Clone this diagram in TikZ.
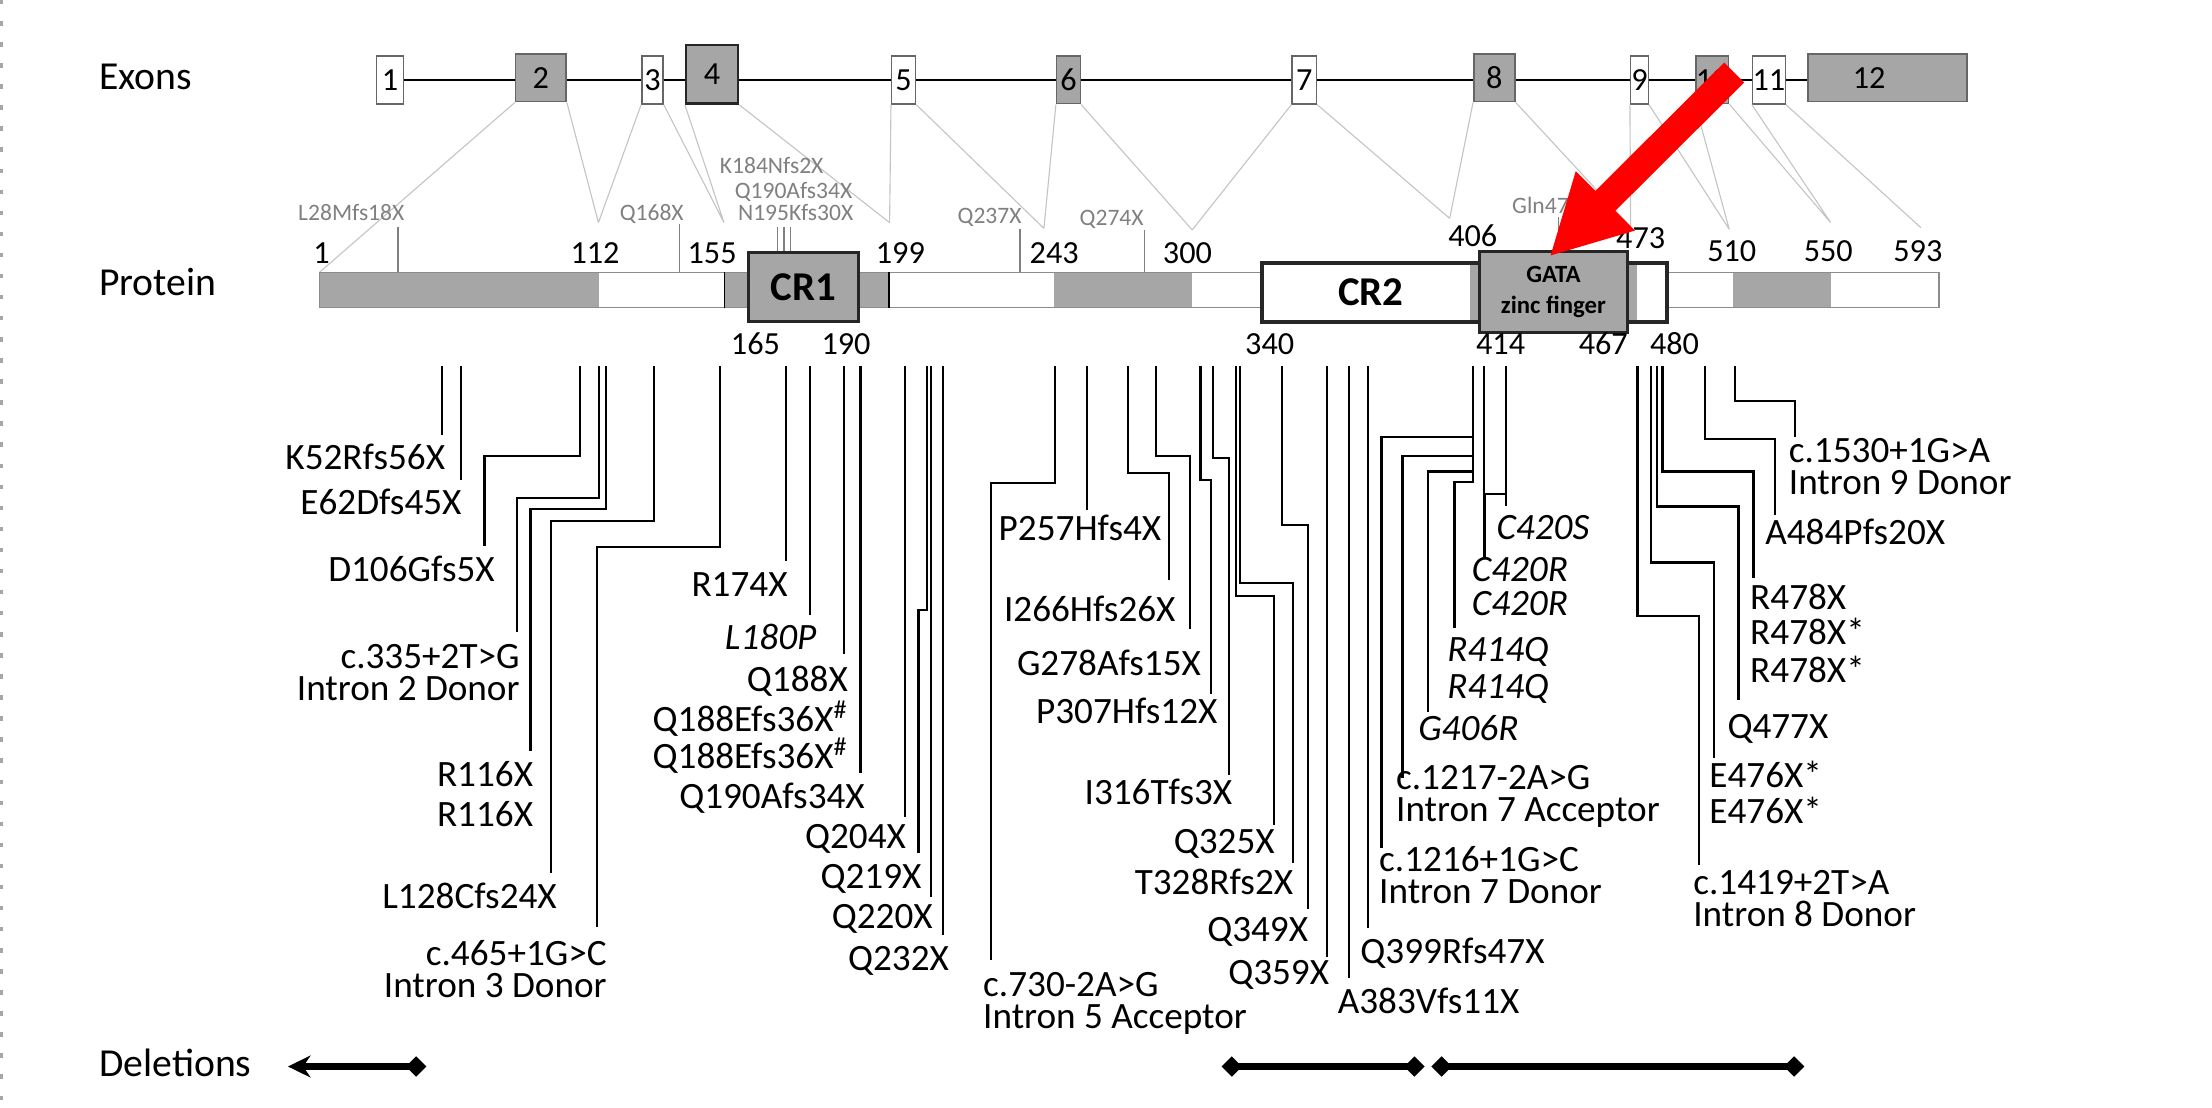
\documentclass[tikz,border=0pt]{standalone}
\usepackage{fontspec}
\setmainfont{Carlito}
\usetikzlibrary{arrows.meta,backgrounds}
\definecolor{exgray}{RGB}{166,166,166}
\definecolor{lblgray}{RGB}{128,128,128}
\definecolor{fangray}{RGB}{196,196,196}
\definecolor{callred}{RGB}{255,0,0}
\newcommand{\setfs}[2]{\fontsize{#1}{#2}\selectfont}
\tikzset{
  exon/.style={draw=black!60,line width=0.6pt,inner sep=0pt,font=\setfs{13}{13}},
  exw/.style={exon,fill=white},
  exg/.style={exon,fill=exgray},
  num/.style={inner sep=0pt,anchor=base,font=\setfs{13}{13}},
  glbl/.style={inner sep=0pt,anchor=base,text=lblgray,font=\setfs{9.5}{9.5}},
  gtick/.style={draw=lblgray,line width=0.5pt},
  fan/.style={draw=fangray,line width=0.45pt},
  mut/.style={inner sep=0pt,font=\setfs{15}{15}},
  mutit/.style={mut,font=\setfs{15}{15}\itshape},
  mutR/.style={mut,align=right,font=\setfs{15}{12.9}},
  mutL/.style={mut,align=left,font=\setfs{15}{12.9}},
  lead/.style={draw=black,line width=0.9pt,shorten >=0.5cm},
  dom/.style={draw=black!85,line width=1.3pt,inner sep=0pt,font=\bfseries\setfs{16.5}{16.5}},
  rowlbl/.style={inner sep=0pt,anchor=base west,font=\setfs{16}{16}},
  delbar/.style={line width=2.6pt},
  intron/.style={draw=black,line width=1.1pt},
}

\begin{document}
\begin{tikzpicture}[x=0.02cm,y=-0.02cm]
  \useasboundingbox (0,0) rectangle (1568,785);
  \draw[black!35,line width=1.2pt,dash pattern=on 1.8pt off 6.7pt] (1,0) -- (1,785);

  % row titles
  \node[rowlbl] (exons) at (70,63.3) {Exons};
  \node[rowlbl] (protein) at (70,209.8) {Protein};
  \node[rowlbl] (deletions) at (70,763) {Deletions};

  % exons
  \node[exw,minimum width=0.38cm,minimum height=0.68cm] (e1) at (276.5,56.7) {1};
  \node[exg,minimum width=0.716cm,minimum height=0.676cm] (e2) at (383.4,55.2) {2};
  \node[exw,minimum width=0.30cm,minimum height=0.68cm] (e3) at (462.5,56.7) {3};
  \node[exg,draw=black!85,line width=1pt,minimum width=0.736cm,minimum height=0.832cm] (e4) at (504.8,52.7) {4};
  \node[exw,minimum width=0.338cm,minimum height=0.68cm] (e5) at (640.55,56.7) {5};
  \node[exg,minimum width=0.336cm,minimum height=0.676cm] (e6) at (757.4,56.6) {6};
  \node[exw,minimum width=0.342cm,minimum height=0.68cm] (e7) at (924.55,56.6) {7};
  \node[exg,minimum width=0.584cm,minimum height=0.676cm] (e8) at (1059.3,55.2) {8};
  \node[exw,minimum width=0.25cm,minimum height=0.68cm] (e9) at (1162.15,56.7) {9};
  \node[exg,minimum width=0.464cm,minimum height=0.672cm] (e10) at (1213.7,56.5) {10};
  \node[exw,minimum width=0.462cm,minimum height=0.68cm] (e11) at (1253.95,56.7) {11};
  \node[exg,minimum width=2.254cm,minimum height=0.676cm] (e12) at (1337.95,55.2) {12\hspace{0.52cm}\mbox{}};
  \begin{pgfonlayer}{background}
    \draw[intron] (e1.east) -- (e1.east -| e12.west);
  \end{pgfonlayer}

  % exon -> protein
  \coordinate (f1) at (226.5,193);
  \coordinate (f112) at (424.2,157.8);
  \coordinate (f155) at (513.2,157.8);
  \coordinate (f199) at (630.6,157.8);
  \coordinate (f243) at (740,161.9);
  \coordinate (f300) at (845.1,163);
  \coordinate (f406) at (1027.6,154.8);
  \coordinate (f473) at (1155.9,160.7);
  \coordinate (f510) at (1225.8,162.6);
  \coordinate (f550) at (1297.7,157.8);
  \coordinate (f593) at (1361.6,161.4);
  \draw[fan] (e2.south west) -- (f1) (e2.south east) -- (f112)
    (e3.south west) -- (f112) (e3.south east) -- (f155)
    (e4.south west) -- (f155) (e4.south east) -- (f199)
    (e5.south west) -- (f199) (e5.south east) -- (f243)
    (e6.south west) -- (f243) (e6.south east) -- (f300)
    (e7.south west) -- (f300) (e7.south east) -- (f406)
    (e8.south west) -- (f406) (e8.south east) -- (f473)
    (e9.south west) -- (f473) (e9.south east) -- (f510)
    (e10.south west) -- (f510) (e10.south east) -- (f550)
    (e11.south west) -- (f550) (e11.south east) -- (f593);

  % protein bar
  \fill[exgray] (226.5,193) rectangle (424.5,218.1);
  \fill[exgray] (513.6,193) rectangle (630.3,218.1);
  \fill[exgray] (746.9,193) rectangle (845,218.1);
  \fill[exgray] (1228.7,193) rectangle (1298,218.1);
  \draw[black!45,line width=0.6pt] (226.5,193) rectangle (1374.6,218.1);
  \draw[black,line width=0.7pt] (513.6,193) -- (513.6,218.1) (630.3,193) -- (630.3,218.1);
  \node[dom,fill=exgray,minimum width=1.556cm,minimum height=0.978cm] (cr1) at (569.7,203.55) {CR1};
  \node[dom,fill=white,line width=1.6pt,minimum width=3.08cm,minimum height=0.828cm] (cr2) at (971.7,207.3) {CR2};
  \fill[exgray] (1042,188) rectangle (1048.7,226.6);
  \node[dom,fill=white,line width=1.6pt,minimum width=0.558cm,minimum height=0.828cm] (cterm) at (1167.55,207.3) {};
  \fill[exgray] (1153.6,188) rectangle (1160.2,226.6);
  \node[dom,fill=exgray,minimum width=2.098cm,minimum height=1.148cm,align=center,
    font=\bfseries\setfs{10}{12.5}] (gata) at (1101.15,207.1) {GATA\\zinc finger};

  % positions
  \node[num] (n1) at (228,186.6) {1};
  \node[num] (n112) at (421.8,186.6) {112};
  \node[num] (n155) at (504.8,186.6) {155};
  \node[num] (n199) at (638.2,186.6) {199};
  \node[num] (n243) at (747.3,186.6) {243};
  \node[num] (n300) at (841.7,186.6) {300};
  \node[num] (n406) at (1044,175) {406};
  \node[num] (n473) at (1163,176) {473};
  \node[num] (n510) at (1227.6,185.5) {510};
  \node[num] (n550) at (1296,185.5) {550};
  \node[num] (n593) at (1359.5,185.5) {593};
  \node[num] (n165) at (535.5,251.5) {165};
  \node[num] (n190) at (599.7,251.5) {190};
  \node[num] (n340) at (900,251.5) {340};
  \node[num] (n414) at (1063.7,251.5) {414};
  \node[num] (n467) at (1136.5,251.5) {467};
  \node[num] (n480) at (1187,251.5) {480};

  % grey variants above the protein
  \node[glbl] (gL28) at (249,156) {L28Mfs18X};
  \node[glbl] (gQ168) at (462,156) {Q168X};
  \node[glbl] (gK184) at (547,122.9) {K184Nfs2X};
  \node[glbl] (gQ190) at (562.5,140.6) {Q190Afs34X};
  \node[glbl] (gN195) at (564,156) {N195Kfs30X};
  \node[glbl] (gQ237) at (701.5,158.3) {Q237X};
  \node[glbl] (gQ274) at (788,159.5) {Q274X};
  \node[glbl,anchor=base west] (gGln) at (1071.6,151.2) {Gln47};
  \draw[gtick] (282.1,160.7) -- (282.1,193) (481.9,159) -- (481.9,193)
    (551.1,160.7) -- (551.1,160.7 |- cr1.north) (555.7,160.7) -- (555.7,160.7 |- cr1.north)
    (560.2,160.7) -- (560.2,160.7 |- cr1.north) (723,162) -- (723,193)
    (811.1,163) -- (811.1,193) (1104.7,154) -- (1104.7,154 |- gata.north);

  % variants below the protein
  \coordinate (tK52) at (313.3,259.5);
  \coordinate (tE62) at (326.6,259.5);
  \coordinate (tD106) at (411.4,259.5);
  \coordinate (tC335) at (424.7,259.5);
  \coordinate (tR116) at (429.8,259.5);
  \coordinate (tL128) at (463.6,259.5);
  \coordinate (tC465) at (510.2,259.5);
  \coordinate (tR174) at (557,259.5);
  \coordinate (tL180) at (574.4,259.5);
  \coordinate (tQ188) at (598.1,259.5);
  \coordinate (tQ190) at (609.9,259.5);
  \coordinate (tQ204) at (641.5,259.5);
  \coordinate (tQ219) at (657,259.5);
  \coordinate (tQ220) at (660,259.5);
  \coordinate (tQ232) at (668.7,259.5);
  \coordinate (tC730) at (748.1,259.5);
  \coordinate (tP257) at (770.3,259.5);
  \coordinate (tI266) at (799.4,259.5);
  \coordinate (tG278) at (819.4,259.5);
  \coordinate (tP307) at (851,259.5);
  \coordinate (tI316) at (859.6,259.5);
  \coordinate (tQ325) at (876,259.5);
  \coordinate (tT328) at (879.2,259.5);
  \coordinate (tQ349) at (908.6,259.5);
  \coordinate (tQ359) at (940.9,259.5);
  \coordinate (tA383) at (956.1,259.5);
  \coordinate (tQ399) at (969.7,259.5);
  \coordinate (tEx7) at (1044,259.5);
  \coordinate (tC420) at (1052,259.5);
  \coordinate (tC420S) at (1067.8,259.5);
  \coordinate (tC1419) at (1160.8,259.5);
  \coordinate (tE476) at (1170.5,259.5);
  \coordinate (tQ477) at (1174.4,259.5);
  \coordinate (tR478) at (1178.5,259.5);
  \coordinate (tA484) at (1208.8,259.5);
  \coordinate (tC1530) at (1229.7,259.5);

  \node[mut,anchor=base east] (lK52) at (315.8,333.1) {K52Rfs56X};
  \node[mut,anchor=base east] (lE62) at (327.5,365) {E62Dfs45X};
  \node[mut,anchor=base east] (lD106) at (351,412.3) {D106Gfs5X};
  \node[mutR,anchor=base east] (lC335) at (368.7,496.7) {c.335+2T>G\\Intron 2 Donor};
  \node[mut,anchor=base east] (lR116a) at (378.2,557.6) {R116X};
  \node[mut,anchor=base east] (lR116b) at (378.2,586) {R116X};
  \node[mut,anchor=base east] (lL128) at (395,643.9) {L128Cfs24X};
  \node[mutR,anchor=base east] (lC465) at (430.4,707.2) {c.465+1G>C\\Intron 3 Donor};
  \node[mut,anchor=base east] (lR174) at (558.6,423) {R174X};
  \node[mutit,anchor=base east] (lL180) at (579,460.7) {L180P};
  \node[mut,anchor=base east] (lQ188) at (601.3,490.3) {Q188X};
  \node[mut,anchor=base east] (lQ188a) at (601.3,518.6) {Q188Efs36X\textsuperscript{\#}};
  \node[mut,anchor=base east] (lQ188b) at (601.3,544.6) {Q188Efs36X\textsuperscript{\#}};
  \node[mut,anchor=base east] (lQ190) at (613.3,573) {Q190Afs34X};
  \node[mut,anchor=base east] (lQ204) at (642.5,601.4) {Q204X};
  \node[mut,anchor=base east] (lQ219) at (653.5,629.7) {Q219X};
  \node[mut,anchor=base east] (lQ220) at (661.5,658) {Q220X};
  \node[mut,anchor=base east] (lQ232) at (673,687.6) {Q232X};

  \draw[lead] (tK52) -- (tK52 |- lK52.base);
  \draw[lead] (tE62) -- (tE62 |- lE62.base);
  \draw[lead] (tD106) |- (343.4,323.2) -- (343.4,323.2 |- lD106.base);
  \draw[lead,shorten >=0.978cm] (tC335) |- (366.5,353.2) -- (366.5,353.2 |- lC335.base);
  \draw[lead] (tR116) |- (376,361) -- (376,361 |- lR116a.base);
  \draw[lead] (tL128) |- (390.8,369.1) -- (390.8,369.1 |- lL128.base);
  \draw[lead,shorten >=1.006cm] (tC465) |- (423.4,387.5) -- (423.4,387.5 |- lC465.base);
  \draw[lead] (tR174) -- (tR174 |- lR174.base);
  \draw[lead] (tL180) -- (tL180 |- lL180.base);
  \draw[lead,shorten >=0.54cm] (tQ188) -- (tQ188 |- lQ188.base);
  \draw[lead] (tQ190) -- (tQ190 |- lQ190.base);
  \draw[lead,shorten >=0.45cm] (tQ204) -- (tQ204 |- lQ204.base);
  \draw[lead] (tQ219) |- (651,432.4) -- (651,432.4 |- lQ219.base);
  \draw[lead,shorten >=0.45cm] (tQ220) -- (tQ220 |- lQ220.base);
  \draw[lead] (tQ232) -- (tQ232 |- lQ232.base);

  \node[mutL,anchor=base west] (lC730) at (696.6,729) {c.730-2A>G\\Intron 5 Acceptor};
  \node[mut,anchor=base west] (lP257) at (707.6,382.8) {P257Hfs4X};
  \node[mut,anchor=base east] (lI266) at (833.6,440.7) {I266Hfs26X};
  \node[mut,anchor=base east] (lG278) at (851.6,478.5) {G278Afs15X};
  \node[mut,anchor=base east] (lP307) at (863.3,512.7) {P307Hfs12X};
  \node[mut,anchor=base east] (lI316) at (873.8,570.6) {I316Tfs3X};
  \node[mut,anchor=base east] (lQ325) at (903.9,604.9) {Q325X};
  \node[mut,anchor=base east] (lT328) at (917,634.4) {T328Rfs2X};
  \node[mut,anchor=base east] (lQ349) at (927.6,667.5) {Q349X};
  \node[mut,anchor=base east] (lQ359) at (942.5,698.2) {Q359X};
  \node[mut,anchor=base west] (lA383) at (948,718.3) {A383Vfs11X};
  \node[mut,anchor=base west] (lQ399) at (964,682.9) {Q399Rfs47X};
  \node[mutL,anchor=base west] (lC1216) at (977.3,640.3) {c.1216+1G>C\\Intron 7 Donor};
  \node[mutL,anchor=base west] (lC1217) at (989.3,582.4) {c.1217-2A>G\\Intron 7 Acceptor};
  \node[mutit,anchor=base west] (lG406) at (1005,524.6) {G406R};
  \node[mutit,anchor=base west] (lR414a) at (1025.7,469) {R414Q};
  \node[mutit,anchor=base west] (lR414b) at (1025.7,495) {R414Q};
  \node[mutit,anchor=base west] (lC420a) at (1043,412.3) {C420R};
  \node[mutit,anchor=base west] (lC420b) at (1043,436) {C420R};
  \node[mutit,anchor=base west] (lC420S) at (1060.5,382.3) {C420S};

  \draw[lead,shorten >=0.97cm] (tC730) |- (702.2,342.1) -- (702.2,342.1 |- lC730.base);
  \draw[lead,shorten >=0.43cm] (tP257) -- (tP257 |- lP257.base);
  \draw[lead,shorten >=0.59cm] (tI266) |- (828.5,335.5) -- (828.5,335.5 |- lI266.base);
  \draw[lead,shorten >=0.65cm] (tG278) |- (843.7,323.2) -- (843.7,323.2 |- lG278.base);
  \draw[lead,shorten >=0.42cm] (tP307) |- (858.6,340.2) -- (858.6,340.2 |- lP307.base);
  \draw[lead,shorten >=0.42cm] (tI316) |- (871.3,324.9) -- (871.3,324.9 |- lI316.base);
  \draw[lead,shorten >=0.4cm] (tQ325) |- (903.2,422.2) -- (903.2,422.2 |- lQ325.base);
  \draw[lead,shorten >=0.45cm] (tT328) |- (916.5,413.5) -- (916.5,413.5 |- lT328.base);
  \draw[lead,shorten >=0.47cm] (tQ349) |- (927,372.2) -- (927,372.2 |- lQ349.base);
  \draw[lead,shorten >=0.4cm] (tQ359) -- (tQ359 |- lQ359.base);
  \draw[lead] (tA383) -- (tA383 |- lA383.base);
  \draw[lead] (tQ399) -- (tQ399 |- lQ399.base);
  \draw[lead,shorten >=0.778cm] (tEx7) |- (979.2,310) -- (979.2,310 |- lC1216.base);
  \draw[lead,shorten >=0.614cm] (tEx7) |- (994.1,323.2) -- (994.1,323.2 |- lC1217.base);
  \draw[lead,shorten >=0.4cm] (tEx7) |- (1012.4,334.3) -- (1012.4,334.3 |- lG406.base);
  \draw[lead,shorten >=0.47cm] (tEx7) |- (1031,341.4) -- (1031,341.4 |- lR414a.base);
  \draw[lead,shorten >=0.35cm] (tC420) -- (tC420 |- lC420a.base);
  \draw[lead,shorten >=0.35cm] (tC420S) |- (1052.5,350.2) -- (1052.5,350.2 |- lC420a.base);
  \draw[lead,shorten >=0.47cm] (tC420S) -- (tC420S |- lC420S.base);

  \node[mutL,anchor=base west] (lC1419) at (1200,656.9) {c.1419+2T>A\\Intron 8 Donor};
  \node[mut,anchor=base west] (lE476a) at (1211.4,558.1) {E476X*};
  \node[mut,anchor=base west] (lE476b) at (1211.4,584) {E476X*};
  \node[mut,anchor=base west] (lQ477) at (1224.2,523.4) {Q477X};
  \node[mut,anchor=base west] (lR478a) at (1240.3,431.9) {R478X};
  \node[mut,anchor=base west] (lR478b) at (1240.3,457.2) {R478X*};
  \node[mut,anchor=base west] (lR478c) at (1240.3,483.9) {R478X*};
  \node[mut,anchor=base west] (lA484) at (1251,386.3) {A484Pfs20X};
  \node[mutL,anchor=base west] (lC1530) at (1267.7,350.2) {c.1530+1G>A\\Intron 9 Donor};

  \draw[lead,shorten >=0.874cm] (tC1419) |- (1204.3,436.6) -- (1204.3,436.6 |- lC1419.base);
  \draw[lead,shorten >=0.41cm] (tE476) |- (1215.2,398.8) -- (1215.2,398.8 |- lE476a.base);
  \draw[lead,shorten >=0.54cm] (tQ477) |- (1232.3,359.1) -- (1232.3,359.1 |- lQ477.base);
  \draw[lead,shorten >=0.44cm] (tR478) |- (1242.9,334.3) -- (1242.9,334.3 |- lR478a.base);
  \draw[lead,shorten >=0.43cm] (tA484) |- (1258,311.4) -- (1258,311.4 |- lA484.base);
  \draw[lead,shorten >=0.804cm] (tC1530) |- (1272.5,284) -- (1272.5,284 |- lC1530.base);

  % deletions
  \coordinate (d1a) at (302.2,756);
  \coordinate (d1b) at (204.1,756);
  \coordinate (d2a) at (865.9,756);
  \coordinate (d2b) at (1009.9,756);
  \coordinate (d3a) at (1014.6,756);
  \coordinate (d3b) at (1279,756);
  \draw[delbar,{Diamond[length=0.29cm,width=0.29cm]}-{Stealth[length=0.32cm,width=0.31cm]}] (d1a) -- (d1b);
  \draw[delbar,{Diamond[length=0.29cm,width=0.29cm]}-{Diamond[length=0.29cm,width=0.29cm]}] (d2a) -- (d2b);
  \draw[delbar,{Diamond[length=0.29cm,width=0.29cm]}-{Diamond[length=0.29cm,width=0.29cm]}] (d3a) -- (d3b);

  % callout
  \coordinate (calltail) at (1229.3,51.4);
  \coordinate (callhit) at (1098.3,181.9);
  \draw[callred,line width=0.4cm,-{Triangle[length=1.12cm,width=1.1cm]}] (calltail) -- (callhit);
\end{tikzpicture}
\end{document}
